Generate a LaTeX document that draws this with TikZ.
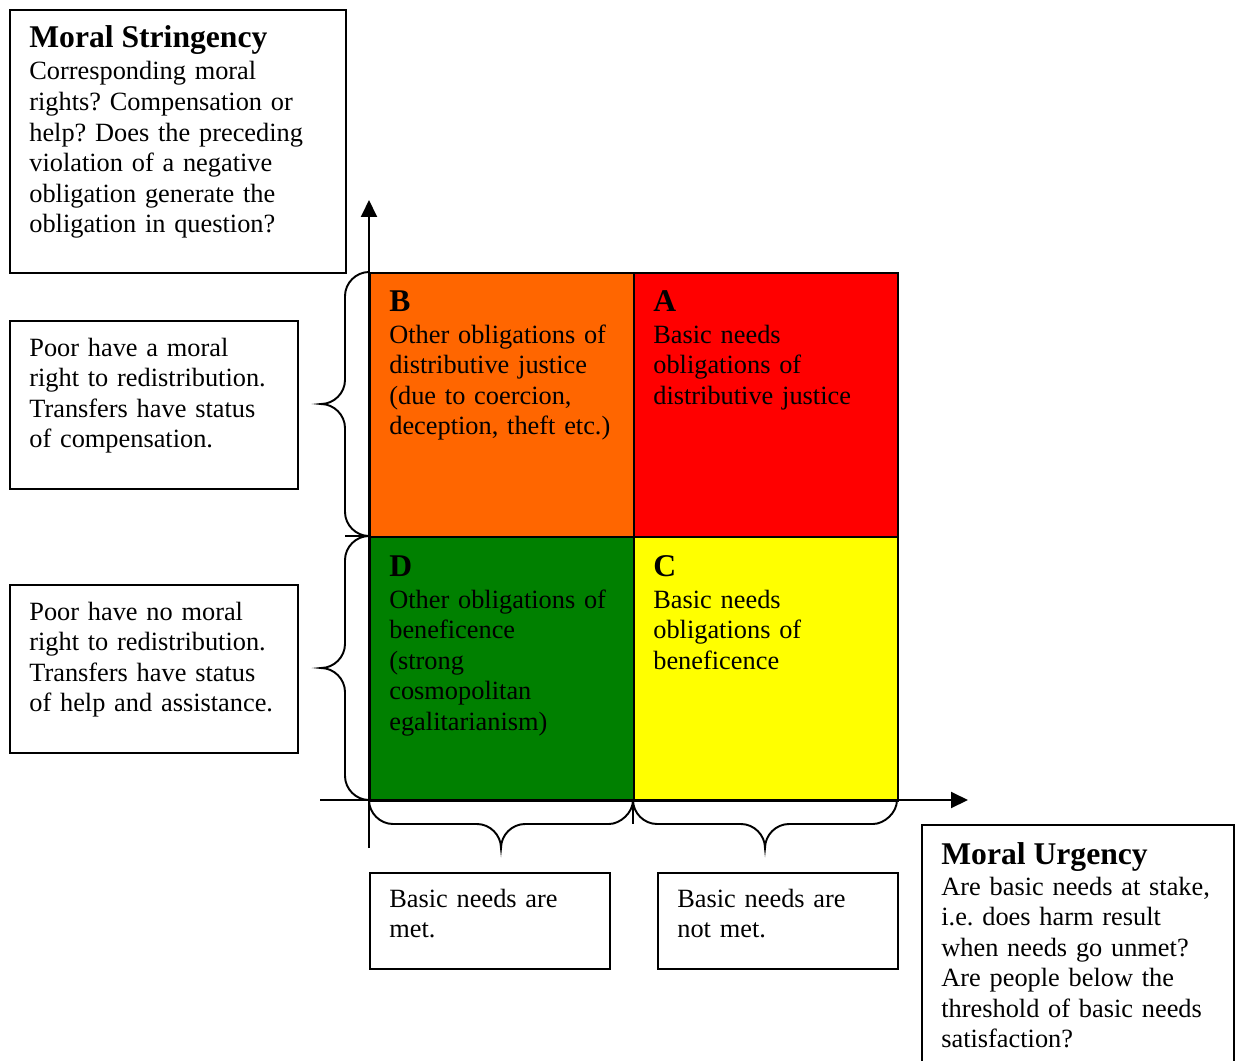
\documentclass[tikz,border=0pt]{standalone}
\usepackage{fontspec}
\setmainfont{Liberation Serif}
\usetikzlibrary{arrows.meta}
\definecolor{cellorange}{HTML}{FF6600}
\definecolor{cellred}{HTML}{FF0000}
\definecolor{cellgreen}{HTML}{008000}
\definecolor{cellyellow}{HTML}{FFFF00}
\newcommand\bodysize{\fontsize{15}{17.4}\selectfont\frenchspacing}
\newcommand\headsize{\fontsize{18}{21}\selectfont\bfseries}

\begin{document}
\begin{tikzpicture}[x=0.02cm,y=-0.02cm,
    frame/.style={draw,line width=1.1pt,inner sep=0pt,anchor=north west},
    cell/.style={frame,minimum width=5.28cm,minimum height=5.28cm},
    body/.style={anchor=base west,inner sep=0pt,text width=6cm,align=left,font=\bodysize},
    head/.style={anchor=base west,inner sep=0pt,font=\headsize},
    axis/.style={line width=1.1pt,-{Triangle[length=0.34cm,width=0.32cm]}},
    brace/.style={line width=1.1pt}]
    \clip (0,0) rectangle (1237,1061);
    \fill[white] (0,0) rectangle (1237,1061);
    % the four quadrants
    \node[cell,fill=cellorange] (qB) at (369,272) {};
    \node[cell,fill=cellred] (qA) at (633,272) {};
    \node[cell,fill=cellgreen] (qD) at (369,536) {};
    \node[cell,fill=cellyellow] (qC) at (633,536) {};
    \node[head] (qBhead) at (389,311) {B};
    \node[body] (qBtext) at (389,343) {Other obligations of\\distributive justice\\(due to coercion,\\deception, theft etc.)};
    \node[head] (qAhead) at (653,311) {A};
    \node[body] (qAtext) at (653,343) {Basic needs\\obligations of\\distributive justice};
    \node[head] (qDhead) at (389,576) {D};
    \node[body] (qDtext) at (389,608) {Other obligations of\\beneficence\\(strong\\cosmopolitan\\egalitarianism)};
    \node[head] (qChead) at (653,576) {C};
    \node[body] (qCtext) at (653,608) {Basic needs\\obligations of\\beneficence};
    % axes
    \coordinate (ybot) at (369,848);
    \coordinate (ytop) at (369,200);
    \coordinate (xleft) at (320,800);
    \coordinate (xright) at (968,800);
    \draw[axis] (ybot) -- (ytop);
    \draw[axis] (xleft) -- (xright);
    % braces
    \draw[brace] (369,272) .. controls (356,272) and (345,283) .. (345,296) -- (345,380)
        .. controls (345,393) and (334,404) .. (321,404)
        .. controls (334,404) and (345,415) .. (345,428)
        -- (345,512) .. controls (345,525) and (356,536) .. (369,536);
    \draw[brace] (369,536) .. controls (356,536) and (345,547) .. (345,560) -- (345,644)
        .. controls (345,657) and (334,668) .. (321,668)
        .. controls (334,668) and (345,679) .. (345,692)
        -- (345,776) .. controls (345,789) and (356,800) .. (369,800);
    \draw[brace] (345,536) -- (369,536);
    \draw[brace] (369,800) .. controls (369,813) and (380,824) .. (393,824) -- (477,824)
        .. controls (490,824) and (501,835) .. (501,848)
        .. controls (501,835) and (512,824) .. (525,824)
        -- (609,824) .. controls (620,824) and (633,813) .. (633,800);
    \draw[brace] (633,800) .. controls (633,813) and (644,824) .. (657,824) -- (741,824)
        .. controls (754,824) and (765,835) .. (765,848)
        .. controls (765,835) and (776,824) .. (789,824)
        -- (873,824) .. controls (884,824) and (897,813) .. (897,800);
    \draw[brace] (633,800) -- (633,824);
    % text boxes
    \node[frame,minimum width=6.72cm,minimum height=5.26cm] (stringency) at (9,9) {};
    \node[head] (stringencyhead) at (29,48) {Moral Stringency};
    \node[body] (stringencytext) at (29,80) {Corresponding moral\\rights? Compensation or\\help? Does the preceding\\violation of a negative\\obligation generate the\\obligation in question?};
    \node[frame,minimum width=5.76cm,minimum height=3.36cm] (rights) at (9,320) {};
    \node[body] (rightstext) at (29,356) {Poor have a moral\\right to redistribution.\\Transfers have status\\of compensation.};
    \node[frame,minimum width=5.76cm,minimum height=3.36cm] (norights) at (9,584) {};
    \node[body] (norightstext) at (29,620) {Poor have no moral\\right to redistribution.\\Transfers have status\\of help and assistance.};
    \node[frame,minimum width=4.8cm,minimum height=1.92cm] (met) at (369,872) {};
    \node[body] (mettext) at (389,907) {Basic needs are\\met.};
    \node[frame,minimum width=4.8cm,minimum height=1.92cm] (notmet) at (657,872) {};
    \node[body] (notmettext) at (677,907) {Basic needs are\\not met.};
    \node[frame,minimum width=6.24cm,minimum height=5.2cm] (urgency) at (921,824) {};
    \node[head] (urgencyhead) at (941,864) {Moral Urgency};
    \node[body] (urgencytext) at (941,895) {Are basic needs at stake,\\i.e. does harm result\\when needs go unmet?\\Are people below the\\threshold of basic needs\\satisfaction?};
\end{tikzpicture}
\end{document}
